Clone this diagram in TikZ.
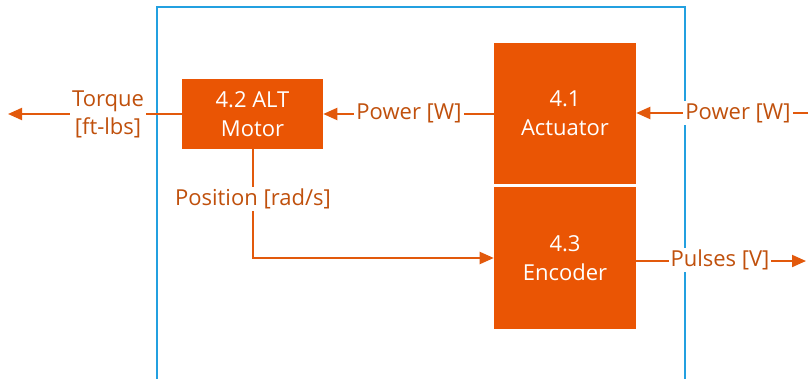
\documentclass[tikz,border=0pt]{standalone}
\usepackage{fontspec}
\setmainfont{Open Sans}
\usetikzlibrary{arrows.meta,positioning}
\definecolor{BoxClr}{HTML}{EA5504}
\definecolor{LineClr}{HTML}{E2590C}
\definecolor{TextClr}{HTML}{C0500C}
\definecolor{FrameClr}{HTML}{23A0E0}

\tikzset{
  block/.style={fill=BoxClr,text=white,align=center,inner sep=0pt,
    font=\fontsize{16.5}{21.75}\selectfont},
  flow/.style={draw=LineClr,line width=1.5pt,-{Triangle[length=10.5pt,width=9pt]}},
  tag/.style={fill=white,text=TextClr,align=center,inner sep=1.5pt,
    font=\fontsize{16.5}{21}\selectfont}
}

\begin{document}
\begin{tikzpicture}[x=0.75pt,y=-0.75pt]
\useasboundingbox (0,0) rectangle (809,378);

\draw[FrameClr,line width=1.5pt] (157,390) |- (685,7) -- (685,390);

\node[block,minimum width=105.75pt,minimum height=52.5pt] (motor) at (252.5,114) {4.2 ALT\\Motor};
\node[block,minimum width=106.5pt,minimum height=105.75pt] (act) at (565,113.5) {4.1\\Actuator};
\node[block,minimum width=106.5pt,minimum height=106.5pt] (enc) at (565,258) {4.3\\Encoder};

\coordinate (torqueEnd) at (8,114);
\coordinate (powerIn) at (808,113);
\coordinate (pulsesEnd) at (806,261);

\draw[flow] (motor.west) -- (torqueEnd);
\draw[flow] (act.west|-motor.east) -- (motor.east);
\draw[flow] (powerIn) -- (powerIn-|act.east);
\draw[flow] (motor.south) |- (enc.west|-0,258);
\draw[flow] (enc.east|-pulsesEnd) -- (pulsesEnd);

\node[tag] (torque) at (108,114) {Torque\\{}[ft-lbs]};
\node[tag] (powerMid) at (409,113) {Power [W]};
\node[tag] (powerRight) at (738,113) {Power [W]};
\node[tag] (position) at (253,199) {Position [rad/s]};
\node[tag] (pulses) at (720,260) {Pulses [V]};

\end{tikzpicture}
\end{document}
